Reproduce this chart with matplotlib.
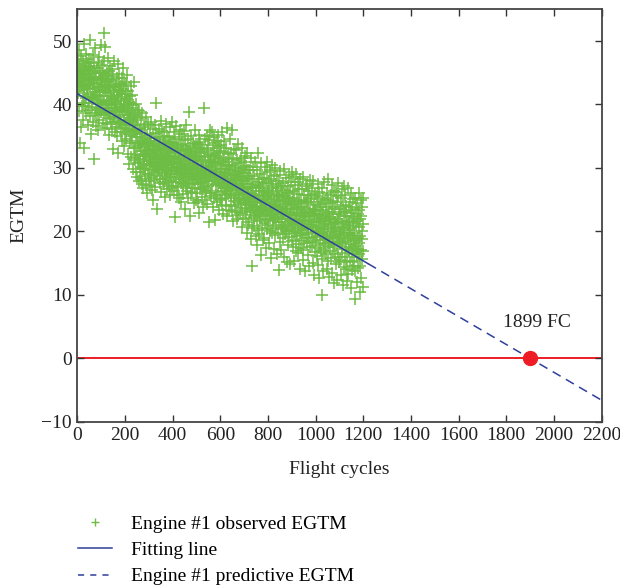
import numpy as np
import matplotlib
matplotlib.use('Agg')
import matplotlib.pyplot as plt
from matplotlib.lines import Line2D

plt.rcParams['font.family'] = ['Liberation Serif', 'DejaVu Serif']

################################################################
# observed EGTM, one value per flight cycle (rows of 20 cycles)

egtm_obs = [
    45.2, 41.8, 47.1, 43.6, 38.9, 44.7, 46.3, 42.1, 48.6, 44.9, 33.9, 43.2, 45.8, 36.4, 44.1, 47.6, 42.9, 39.8, 45.5, 43.0,
    44.3, 40.2, 46.8, 37.5, 43.9, 45.1, 41.4, 49.6, 42.8, 33.2, 44.6, 46.0, 39.7, 43.1, 45.4, 41.0, 47.9, 38.6, 44.0, 42.5,
    42.4, 46.5, 39.1, 44.8, 41.7, 36.8, 45.9, 43.5, 40.3, 47.2, 44.1, 38.2, 42.9, 45.6, 50.1, 41.2, 35.3, 43.8, 46.7, 40.9,
    43.9, 39.6, 45.3, 41.1, 47.8, 37.2, 42.6, 44.4, 31.4, 46.1, 40.8, 43.3, 38.7, 45.0, 42.0, 48.9, 39.4, 44.2, 41.5, 36.6,
    41.3, 45.7, 38.3, 43.4, 40.1, 46.6, 35.9, 42.7, 44.9, 39.2, 47.5, 41.9, 37.6, 43.8, 45.2, 40.4, 42.3, 49.3, 38.8, 44.0,
    40.7, 43.9, 46.2, 39.5, 42.8, 37.1, 45.0, 41.4, 44.3, 38.6, 43.1, 51.3, 40.2, 46.8, 42.5, 36.3, 44.6, 49.1, 39.9, 43.5,
    42.2, 38.4, 44.9, 40.6, 36.9, 43.5, 41.8, 47.4, 39.0, 42.9, 35.2, 45.3, 40.1, 38.7, 44.0, 41.3, 46.1, 37.8, 42.6, 39.5,
    41.4, 37.3, 43.8, 39.9, 45.6, 36.2, 40.8, 42.7, 38.1, 44.5, 33.0, 41.2, 39.4, 46.9, 37.7, 42.3, 40.5, 35.6, 43.1, 38.9,
    40.3, 36.5, 42.8, 38.8, 44.2, 35.1, 41.5, 39.2, 46.4, 37.4, 40.9, 32.4, 43.3, 38.0, 41.9, 36.9, 44.8, 39.6, 37.2, 42.1,
    38.4, 42.9, 35.7, 40.6, 37.1, 44.1, 39.3, 41.7, 34.2, 45.8, 38.9, 36.3, 42.4, 40.0, 37.6, 43.6, 33.4, 39.8, 41.1, 36.8,
    39.2, 35.4, 41.6, 37.0, 43.3, 34.6, 38.8, 40.9, 36.1, 44.7, 37.5, 32.2, 39.9, 42.1, 35.8, 38.3, 40.4, 30.6, 41.3, 36.7,
    37.8, 33.9, 40.2, 35.1, 38.6, 42.9, 31.7, 36.9, 39.4, 34.3, 41.5, 29.8, 37.2, 35.6, 39.9, 33.1, 38.1, 43.6, 36.0, 31.2,
    35.9, 31.6, 38.4, 33.2, 36.7, 29.4, 40.1, 34.8, 32.1, 37.5, 28.6, 35.3, 39.2, 30.8, 34.0, 36.2, 27.9, 38.9, 33.5, 31.0,
    33.6, 29.3, 36.1, 31.4, 34.9, 28.2, 37.8, 32.7, 30.1, 35.5, 27.4, 33.9, 38.6, 29.8, 31.9, 34.3, 26.8, 36.7, 32.2, 30.5,
    31.2, 34.6, 28.7, 33.3, 36.4, 29.9, 32.5, 38.1, 27.3, 31.8, 35.2, 30.4, 33.7, 26.1, 32.9, 36.9, 29.1, 34.1, 31.5, 28.0,
    32.8, 29.0, 35.4, 30.6, 27.2, 33.9, 31.1, 37.3, 28.4, 32.2, 34.7, 26.5, 30.9, 33.4, 29.6, 36.1, 31.7, 24.9, 33.0, 30.2,
    30.7, 34.2, 28.1, 32.6, 36.8, 29.4, 31.9, 27.0, 33.8, 40.3, 30.3, 35.5, 28.8, 32.3, 23.6, 31.4, 34.9, 29.7, 33.1, 30.0,
    33.5, 29.8, 31.0, 36.2, 27.6, 32.8, 30.4, 34.5, 28.3, 37.4, 31.6, 26.2, 33.2, 29.2, 35.8, 30.9, 32.1, 27.8, 34.0, 31.3,
    30.1, 33.7, 27.5, 32.0, 35.6, 28.9, 31.5, 25.4, 34.3, 29.6, 36.9, 30.8, 28.2, 33.1, 31.8, 26.7, 35.0, 29.3, 32.6, 30.4,
    32.4, 28.6, 34.8, 30.5, 27.1, 33.6, 31.2, 36.4, 29.0, 25.8, 32.9, 30.0, 34.1, 28.0, 31.7, 37.2, 29.5, 33.3, 26.9, 31.0,
    31.4, 27.8, 33.9, 29.6, 35.7, 26.3, 30.9, 32.7, 22.2, 34.5, 28.5, 31.9, 30.2, 36.6, 27.2, 32.5, 29.1, 33.6, 25.7, 30.7,
    29.8, 33.1, 27.0, 31.6, 34.9, 28.3, 32.3, 25.2, 30.6, 36.0, 29.4, 31.0, 27.7, 33.8, 30.1, 24.6, 32.8, 28.9, 35.3, 30.3,
    31.3, 27.4, 33.5, 29.2, 25.9, 32.1, 30.6, 35.8, 28.0, 31.8, 23.5, 34.4, 29.7, 27.1, 32.9, 30.2, 36.7, 28.6, 33.0, 26.4,
    30.4, 26.8, 32.7, 28.5, 34.6, 25.3, 29.9, 31.5, 38.8, 27.6, 33.2, 29.0, 22.4, 31.1, 28.2, 35.1, 30.0, 26.1, 32.4, 29.3,
    28.7, 32.0, 26.2, 30.8, 34.0, 27.5, 29.6, 24.4, 33.4, 31.2, 28.1, 35.9, 30.3, 26.9, 32.6, 29.1, 25.0, 31.7, 28.8, 33.8,
    29.9, 26.0, 31.9, 28.3, 33.7, 24.7, 30.5, 27.4, 35.2, 29.2, 32.3, 22.9, 28.6, 31.4, 26.6, 34.1, 30.1, 27.8, 33.0, 29.5,
    27.6, 31.1, 25.4, 29.8, 33.2, 26.7, 30.4, 23.8, 28.9, 39.5, 27.0, 32.5, 29.3, 24.9, 31.7, 28.2, 34.6, 26.3, 30.0, 28.5,
    30.2, 26.4, 32.8, 28.0, 35.1, 24.3, 29.6, 31.9, 27.2, 33.6, 21.4, 30.7, 28.4, 34.4, 26.0, 31.3, 29.0, 36.0, 25.5, 30.9,
    28.8, 32.2, 26.1, 30.3, 35.6, 27.3, 29.7, 23.9, 33.1, 31.0, 27.9, 34.9, 29.4, 25.2, 32.0, 28.5, 30.8, 21.8, 33.9, 29.2,
    29.6, 25.8, 31.8, 27.5, 34.3, 24.6, 28.9, 32.4, 26.4, 35.2, 28.1, 30.6, 23.4, 31.5, 27.7, 33.5, 29.9, 25.1, 32.7, 28.3,
    27.1, 30.9, 25.0, 29.3, 33.6, 26.2, 28.6, 35.7, 24.1, 31.2, 27.6, 29.9, 22.7, 32.5, 28.2, 26.8, 34.2, 29.0, 25.7, 30.4,
    28.7, 25.2, 31.0, 26.9, 33.1, 24.0, 29.2, 36.3, 27.4, 22.5, 30.3, 28.0, 32.2, 25.9, 29.8, 23.3, 31.6, 27.1, 34.6, 26.5,
    26.3, 29.7, 24.1, 28.4, 32.3, 25.5, 27.8, 35.9, 23.2, 30.5, 26.9, 28.9, 21.6, 31.4, 27.3, 24.8, 33.0, 28.1, 25.3, 29.5,
    27.6, 24.0, 30.1, 25.8, 32.8, 23.1, 28.3, 26.6, 31.2, 21.9, 29.0, 27.1, 33.7, 24.6, 28.7, 22.6, 30.7, 26.0, 25.2, 29.4,
    25.1, 28.6, 22.9, 27.4, 31.5, 24.3, 26.8, 30.0, 20.7, 28.1, 25.8, 33.1, 23.7, 27.0, 29.6, 22.0, 26.3, 31.0, 24.9, 27.9,
    26.7, 23.2, 29.2, 25.0, 31.9, 22.1, 27.5, 24.4, 30.3, 19.8, 28.4, 26.1, 32.4, 23.6, 27.0, 21.0, 29.7, 25.4, 24.2, 28.8,
    26.1, 21.4, 24.8, 29.7, 23.0, 27.5, 18.8, 25.9, 31.6, 22.6, 26.9, 14.6, 24.2, 28.3, 20.5, 25.3, 30.2, 23.7, 27.0, 22.1,
    23.9, 28.8, 20.9, 25.6, 22.4, 30.9, 24.7, 19.2, 27.1, 23.3, 26.4, 17.9, 25.1, 29.6, 21.8, 24.0, 27.8, 22.9, 32.4, 20.2,
    27.3, 23.1, 19.6, 25.8, 29.0, 21.7, 24.4, 26.9, 16.3, 23.8, 30.7, 22.5, 25.0, 28.2, 20.6, 26.3, 23.5, 18.7, 27.6, 24.9,
    22.8, 26.2, 24.6, 19.0, 28.4, 23.4, 30.1, 21.3, 25.5, 17.4, 24.1, 27.7, 22.0, 29.3, 20.4, 25.9, 23.2, 31.0, 21.8, 26.5,
    25.3, 21.0, 27.9, 23.7, 18.2, 26.0, 22.4, 29.6, 24.5, 20.1, 23.0, 28.3, 15.8, 25.6, 22.7, 27.2, 19.7, 24.2, 30.4, 21.6,
    20.9, 26.8, 23.3, 28.7, 21.9, 25.1, 17.2, 24.0, 22.1, 30.0, 19.4, 26.3, 23.9, 27.5, 20.6, 24.8, 16.5, 25.7, 22.6, 28.9,
    24.2, 19.8, 26.9, 22.3, 28.0, 13.9, 25.4, 21.5, 23.6, 29.5, 18.4, 24.9, 21.0, 27.2, 22.8, 17.0, 26.1, 23.1, 20.3, 25.8,
    21.4, 25.6, 18.9, 23.8, 27.7, 20.7, 22.9, 29.8, 16.0, 24.3, 21.9, 26.5, 19.6, 23.2, 28.4, 20.0, 24.6, 15.2, 22.4, 26.0,
    23.6, 20.1, 27.1, 22.0, 25.3, 17.9, 24.9, 21.2, 28.9, 19.1, 23.0, 26.2, 14.9, 22.7, 27.8, 20.8, 24.1, 21.7, 29.4, 18.5,
    20.4, 24.7, 22.6, 17.6, 26.4, 21.3, 28.5, 19.8, 23.5, 15.4, 25.2, 22.0, 27.3, 20.0, 24.3, 18.6, 21.8, 29.0, 16.9, 23.9,
    22.9, 19.2, 25.9, 21.1, 27.8, 16.6, 23.7, 20.5, 24.8, 18.0, 26.7, 21.6, 14.1, 22.4, 28.3, 19.7, 23.3, 17.4, 25.0, 20.9,
    19.5, 23.9, 21.4, 26.6, 17.0, 22.7, 20.2, 28.6, 15.5, 24.4, 21.8, 18.5, 25.7, 20.6, 23.1, 13.8, 22.2, 27.1, 19.0, 24.8,
    22.5, 18.2, 24.6, 20.3, 27.4, 16.3, 23.6, 19.6, 25.8, 21.2, 14.6, 22.9, 26.3, 18.9, 21.7, 28.1, 17.5, 23.0, 20.7, 25.1,
    21.0, 25.3, 17.7, 22.4, 19.9, 26.8, 15.0, 23.5, 20.6, 27.9, 18.3, 24.1, 21.5, 13.2, 22.8, 19.1, 25.9, 16.8, 23.3, 20.2,
    18.6, 23.2, 20.8, 25.6, 16.1, 21.9, 19.3, 27.4, 14.7, 22.6, 20.1, 24.7, 17.4, 21.4, 26.2, 12.6, 23.8, 19.7, 22.1, 18.0,
    21.7, 17.1, 24.3, 19.8, 26.9, 15.6, 10.0, 22.8, 18.7, 25.2, 20.5, 13.7, 23.4, 19.2, 27.8, 16.8, 21.2, 24.9, 18.1, 22.3,
    20.3, 23.8, 16.4, 21.6, 18.8, 26.1, 14.1, 22.5, 19.6, 25.0, 17.7, 20.9, 28.3, 15.3, 23.1, 18.2, 21.9, 12.8, 24.4, 19.0,
    17.6, 22.2, 19.9, 25.7, 15.8, 21.1, 18.4, 27.3, 13.5, 23.6, 20.6, 16.9, 24.8, 19.3, 22.7, 11.9, 20.1, 26.4, 18.0, 21.5,
    21.3, 16.5, 23.9, 19.1, 26.2, 14.8, 20.4, 17.8, 24.7, 22.0, 12.3, 18.9, 25.6, 16.0, 21.7, 27.7, 19.6, 15.2, 23.0, 18.4,
    18.1, 22.8, 20.0, 15.5, 25.3, 19.4, 13.1, 23.5, 17.2, 21.2, 26.7, 16.6, 20.7, 11.5, 24.2, 18.6, 22.4, 14.4, 19.8, 27.2,
    20.6, 16.0, 23.1, 18.3, 25.8, 14.0, 21.4, 17.6, 24.0, 19.7, 12.2, 22.5, 15.4, 26.9, 18.9, 21.0, 13.3, 23.8, 17.1, 20.2,
    17.0, 21.7, 19.2, 24.6, 15.1, 20.5, 11.0, 22.9, 18.0, 26.0, 16.4, 23.3, 13.9, 19.5, 25.1, 17.4, 21.3, 14.6, 22.0, 18.6,
    19.8, 15.3, 22.3, 17.7, 25.2, 13.7, 9.4, 20.9, 16.8, 23.7, 18.5, 12.0, 21.6, 15.9, 24.4, 19.0, 14.2, 22.8, 17.2, 26.1,
    16.4, 20.7, 18.1, 23.4, 14.5, 21.9, 10.4, 19.3, 24.9, 17.0, 22.4, 12.7, 20.0, 15.6, 23.9, 18.8, 11.2, 21.2, 16.9, 25.3,
]
cycles = np.arange(1, len(egtm_obs) + 1)

# linear fit: intercept and the cycle where EGTM reaches zero
fit_intercept = 41.7
fail_cycle = 1899
fit_end = 1220
x_max = 2200

xticks = [0, 200, 400, 600, 800, 1000, 1200, 1400, 1600, 1800, 2000, 2200]
yticks = [-10, 0, 10, 20, 30, 40, 50]

GREEN = '#6dbd45'
BLUE = '#2e3f9c'
RED = '#ee1c25'

################################################################

fit_slope = -fit_intercept / fail_cycle

fig = plt.figure(figsize=(6.2, 5.88), dpi=100)
ax = fig.add_axes([0.1247, 0.2828, 0.8456, 0.7014])

ax.plot(cycles, egtm_obs, '+', color=GREEN, ms=8, mew=1.1, zorder=2)

x_fit = np.array([0, fit_end])
ax.plot(x_fit, fit_intercept + fit_slope * x_fit, '-', color=BLUE, lw=1.1, zorder=3)
x_pred = np.array([fit_end, x_max])
ax.plot(x_pred, fit_intercept + fit_slope * x_pred, '--', color=BLUE, lw=1.1,
        dashes=(6, 4), zorder=3)

ax.axhline(0, color=RED, lw=1.4, zorder=1)
ax.plot([fail_cycle], [0], 'o', color=RED, ms=10, zorder=4)
ax.text(fail_cycle + 30, 5.7, '%d FC' % fail_cycle, ha='center', va='center',
        fontsize=14, color='#222222')

ax.set_xlim(0, x_max)
ax.set_ylim(-10, 55)
ax.set_xticks(xticks)
ax.set_yticks(yticks)
ax.tick_params(direction='in', top=True, right=True, length=5, width=1.0,
               labelsize=14, colors='#333333', labelcolor='#222222', pad=4)
for s in ax.spines.values():
    s.set_color('#444444')
    s.set_linewidth(1.3)

ax.set_xlabel('Flight cycles', fontsize=14, color='#222222', labelpad=12)
ax.set_ylabel('EGTM', fontsize=14, color='#222222', labelpad=10)

handles = [
    Line2D([], [], ls='none', marker='+', color=GREEN, ms=6, mew=1.0),
    Line2D([], [], color=BLUE, lw=1.1),
    Line2D([], [], color=BLUE, lw=1.1, ls='--', dashes=(4, 4)),
]
labels = ['Engine #1 observed EGTM', 'Fitting line', 'Engine #1 predictive EGTM']
fig.legend(handles, labels, loc='upper left', bbox_to_anchor=(0.126, 0.124),
           frameon=False, fontsize=14, handlelength=1.75, handletextpad=0.95,
           labelspacing=0.45, borderpad=0, borderaxespad=0)

fig.savefig('out.png', dpi=100)
